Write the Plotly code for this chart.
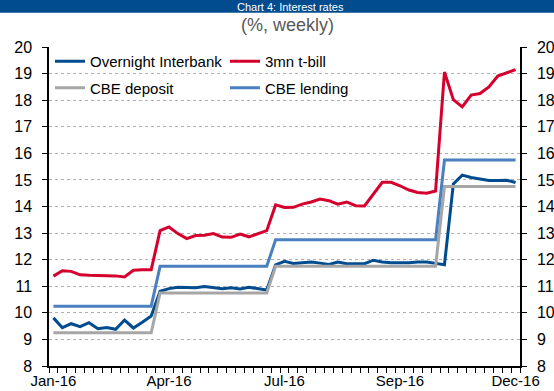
import plotly.graph_objects as go

# weekly observations, Jan-16 .. Dec-16 (53 weeks), x = week position
weeks = list(range(53))
tick_pos = [0, 13, 26, 39, 52]
tick_labels = ["Jan-16", "Apr-16", "Jul-16", "Sep-16", "Dec-16"]

overnight = [9.81, 9.44, 9.59, 9.48, 9.63, 9.40, 9.45, 9.38, 9.73, 9.43, 9.65, 9.88,
             10.81, 10.91, 10.96, 10.96, 10.94, 10.99, 10.94, 10.91, 10.94, 10.90, 10.96, 10.91, 10.86,
             11.80, 11.94, 11.86, 11.88, 11.91, 11.87, 11.82, 11.91, 11.85, 11.85, 11.85, 11.98,
             11.91, 11.88, 11.87, 11.88, 11.91, 11.91, 11.86, 11.81,
             14.85, 15.18, 15.09, 15.03, 14.98, 14.98, 14.99, 14.90]
tbill = [11.38, 11.58, 11.56, 11.43, 11.41, 11.40, 11.39, 11.39, 11.35, 11.60, 11.62, 11.62,
         13.09, 13.23, 12.98, 12.79, 12.91, 12.92, 12.98, 12.85, 12.84, 12.96, 12.86, 12.98, 13.09,
         14.06, 13.96, 13.97, 14.09, 14.17, 14.28, 14.22, 14.09, 14.17, 14.03, 14.02, 14.47,
         14.91, 14.91, 14.78, 14.62, 14.53, 14.50, 14.58,
         19.06, 18.02, 17.75, 18.19, 18.25, 18.50, 18.91, 19.03, 19.15]
deposit = [9.25, 9.25, 9.25, 9.25, 9.25, 9.25, 9.25, 9.25, 9.25, 9.25, 9.25, 9.25,
           10.75, 10.75, 10.75, 10.75, 10.75, 10.75, 10.75, 10.75, 10.75, 10.75, 10.75, 10.75, 10.75,
           11.75, 11.75, 11.75, 11.75, 11.75, 11.75, 11.75, 11.75, 11.75, 11.75, 11.75, 11.75,
           11.75, 11.75, 11.75, 11.75, 11.75, 11.75, 11.75,
           14.75, 14.75, 14.75, 14.75, 14.75, 14.75, 14.75, 14.75, 14.75]
lending = [10.25, 10.25, 10.25, 10.25, 10.25, 10.25, 10.25, 10.25, 10.25, 10.25, 10.25, 10.25,
           11.75, 11.75, 11.75, 11.75, 11.75, 11.75, 11.75, 11.75, 11.75, 11.75, 11.75, 11.75, 11.75,
           12.75, 12.75, 12.75, 12.75, 12.75, 12.75, 12.75, 12.75, 12.75, 12.75, 12.75, 12.75,
           12.75, 12.75, 12.75, 12.75, 12.75, 12.75, 12.75,
           15.75, 15.75, 15.75, 15.75, 15.75, 15.75, 15.75, 15.75, 15.75]

FONT = "Liberation Sans, Arial, sans-serif"
C_ON = "#004C8F"
C_TB = "#D4002E"
C_DEP = "#A6A6A6"
C_LEN = "#4A7FC0"

# plot-area geometry in pixels (used only to place the header texts)
PL, PR, PT, PB = 49, 520, 47, 366
PW, PH = PR - PL, PB - PT


def px_x(px):
    return (px - PL) / PW


def px_y(py):
    return (PB - py) / PH


fig = go.Figure()
fig.add_trace(go.Scatter(x=weeks, y=overnight, name="Overnight Interbank", mode="lines",
                         line=dict(color=C_ON, width=3), legend="legend"))
fig.add_trace(go.Scatter(x=weeks, y=tbill, name="3mn t-bill", mode="lines",
                         line=dict(color=C_TB, width=3), legend="legend"))
fig.add_trace(go.Scatter(x=weeks, y=deposit, name="CBE deposit", mode="lines",
                         line=dict(color=C_DEP, width=3), legend="legend2"))
fig.add_trace(go.Scatter(x=weeks, y=lending, name="CBE lending", mode="lines",
                         line=dict(color=C_LEN, width=3), legend="legend2"))
# invisible trace to activate right-hand axis
fig.add_trace(go.Scatter(x=weeks, y=deposit, yaxis="y2", mode="lines", showlegend=False,
                         hoverinfo="skip", line=dict(color="rgba(0,0,0,0)", width=0)))

yaxis_common = dict(range=[8, 20], dtick=1, tick0=8, ticks="outside", ticklen=5,
                    tickcolor="black", tickwidth=1.2, showline=True, linecolor="black",
                    linewidth=1.5, tickfont=dict(size=16, color="black", family=FONT),
                    ticklabelstandoff=7, zeroline=False, fixedrange=True, automargin=False)

legend_common = dict(orientation="h", x=px_x(50), xanchor="left", yanchor="middle",
                     entrywidth=130, entrywidthmode="pixels", itemwidth=30,
                     bgcolor="rgba(0,0,0,0)", font=dict(size=15, family=FONT, color="black"))

fig.update_layout(
    width=554, height=391,
    margin=dict(l=PL, r=554 - PR, t=PT, b=391 - PB),
    paper_bgcolor="white", plot_bgcolor="white",
    font=dict(family=FONT, color="black"),
    xaxis=dict(range=[-0.5, 52.5], tickmode="array", tickvals=tick_pos, ticktext=tick_labels,
               ticks="", showgrid=False, zeroline=False, showline=True, linecolor="black",
               linewidth=1.5, tickfont=dict(size=15, color="black", family=FONT),
               ticklabelstandoff=0, automargin=False,
               minor=dict(ticks="outside", tick0=-0.5, dtick=1, ticklen=5, tickcolor="black",
                          tickwidth=1, showgrid=False)),
    yaxis=dict(side="left", showgrid=True, gridcolor="#B0B0B0", griddash="dot", gridwidth=1,
               **yaxis_common),
    yaxis2=dict(side="right", overlaying="y", showgrid=False, **yaxis_common),
    legend=dict(y=px_y(61.5), **legend_common),
    legend2=dict(y=px_y(88), **legend_common),
    showlegend=True,
    shapes=[dict(type="rect", xref="paper", yref="paper", x0=px_x(-20), x1=px_x(580),
                 y0=px_y(12.7), y1=px_y(-20), fillcolor="#004C8F", line=dict(width=0),
                 layer="above")],
    annotations=[
        dict(text="Chart 4: Interest rates", xref="paper", yref="paper",
             x=px_x(290), y=px_y(6.5), xanchor="center", yanchor="middle",
             showarrow=False, font=dict(size=11, color="white", family=FONT)),
        dict(text="(%, weekly)", xref="paper", yref="paper",
             x=px_x(287), y=px_y(25), xanchor="center", yanchor="middle",
             showarrow=False, font=dict(size=18, color="#595959", family=FONT)),
    ],
)

fig.write_html("out.html")
